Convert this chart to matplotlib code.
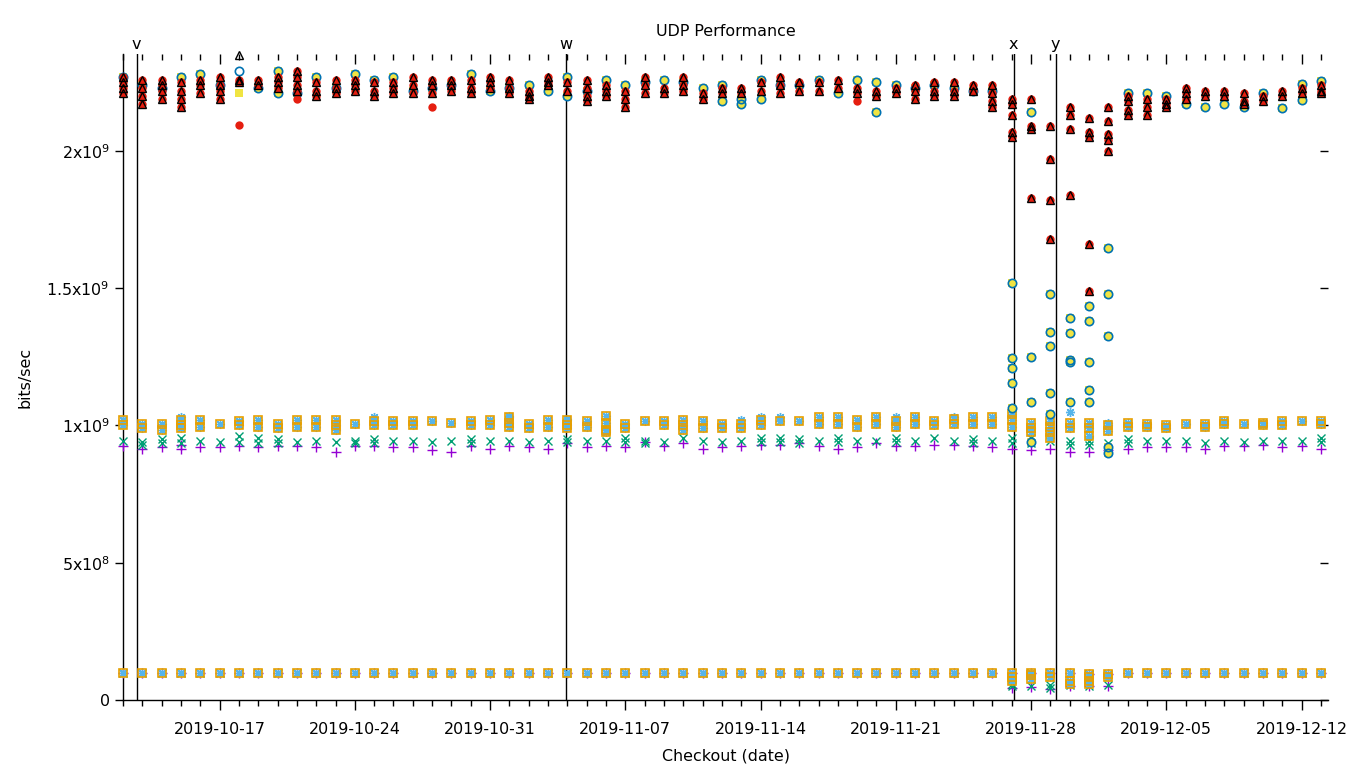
import numpy as np
import matplotlib
matplotlib.use("Agg")
import matplotlib.pyplot as plt
import matplotlib.dates as mdates
from datetime import datetime, timedelta

# ---------------- data (values in units of 1e9 bits/sec) ----------------
start_date = "2019-10-12"
n_days = 63

# red filled circles and black open triangles (same runs)
rb_shared = [
    [2.27, 2.25, 2.23, 2.21], [2.26, 2.23, 2.20, 2.17], [2.26, 2.24, 2.22, 2.19],
    [2.25, 2.22, 2.19, 2.16], [2.26, 2.24, 2.21], [2.27, 2.24, 2.22, 2.19],
    [2.26, 2.25], [2.26, 2.24], [2.27, 2.25, 2.23], [2.29, 2.27, 2.24, 2.22],
    [2.25, 2.22, 2.20], [2.26, 2.23, 2.21], [2.26, 2.24, 2.22], [2.25, 2.22, 2.20],
    [2.25, 2.23, 2.21], [2.27, 2.24, 2.21], [2.26, 2.24, 2.21], [2.26, 2.24, 2.22],
    [2.26, 2.23, 2.21], [2.27, 2.25, 2.23], [2.26, 2.23, 2.21], [2.22, 2.20, 2.19],
    [2.27, 2.25, 2.24], [2.25, 2.22], [2.26, 2.23, 2.20, 2.18], [2.24, 2.22, 2.20],
    [2.22, 2.19, 2.16], [2.27, 2.24, 2.21], [2.23, 2.21], [2.27, 2.24, 2.22],
    [2.21, 2.19], [2.23, 2.21], [2.23, 2.21], [2.25, 2.22], [2.27, 2.24, 2.21],
    [2.25, 2.22], [2.25, 2.22], [2.26, 2.23], [2.23, 2.21], [2.22, 2.20],
    [2.23, 2.21], [2.24, 2.22, 2.19], [2.25, 2.22, 2.20], [2.25, 2.22, 2.20],
    [2.24, 2.22], [2.24, 2.21, 2.18, 2.16],
    [2.19, 2.17, 2.13, 2.07, 2.05], [2.19, 2.09, 2.08, 1.83], [2.09, 1.97, 1.82, 1.68],
    [2.16, 2.13, 2.08, 1.84], [2.12, 2.07, 2.05, 1.66, 1.49], [2.16, 2.11, 2.06, 2.04, 2.00],
    [2.20, 2.18, 2.15, 2.13], [2.19, 2.16, 2.13], [2.19, 2.17, 2.16], [2.23, 2.21, 2.19],
    [2.22, 2.20], [2.22, 2.20], [2.21, 2.18, 2.17], [2.20, 2.18], [2.22, 2.20],
    [2.23, 2.21], [2.24, 2.22, 2.21],
]
red_only = {6: [2.094], 9: [2.19], 16: [2.16], 38: [2.18]}
black_only = {6: [2.35]}

# yellow filled squares and blue open circles (same runs)
yb_shared = [
    [2.27], [2.24], [2.23], [2.27], [2.28], [2.24], [], [2.23], [2.29, 2.21], [2.21],
    [2.27], [2.23], [2.28], [2.26], [2.27], [2.22], [2.23], [2.24], [2.28], [2.22],
    [2.23], [2.24], [2.22], [2.27, 2.20], [2.22], [2.26], [2.24], [2.25], [2.26], [2.25],
    [2.23], [2.24, 2.18], [2.19, 2.17], [2.26, 2.19], [2.24], [2.24], [2.26], [2.21],
    [2.26], [2.25, 2.14], [2.24], [2.23], [2.24], [2.23], [2.22], [2.22],
    [1.52, 1.245, 1.21, 1.155, 1.065], [2.14, 1.25, 1.085, 0.94],
    [1.48, 1.34, 1.29, 1.12, 1.04], [1.39, 1.335, 1.24, 1.23, 1.085],
    [1.435, 1.38, 1.23, 1.13, 1.085], [1.645, 1.48, 1.325, 0.92, 0.90],
    [2.21], [2.21], [2.20], [2.17], [2.16], [2.17], [2.16], [2.21], [2.155],
    [2.245, 2.185], [2.255],
]
blue_only = {6: [2.29]}
yellow_only = {6: [2.21]}

# orange open squares / sky-blue stars near 1e9
orange_mid = [
    [1.02, 1.00], [1.005, 0.99], [1.005, 0.985], [1.02, 1.00, 0.99], [1.02, 0.995],
    [1.005], [1.015, 1.00], [1.02, 0.995], [1.005, 0.99], [1.02, 0.995],
    [1.02, 0.995], [1.02, 1.00, 0.985], [1.005], [1.015, 1.00], [1.015, 1.00],
    [1.015, 1.00], [1.015], [1.01], [1.015, 1.00], [1.02, 1.00],
    [1.03, 1.01, 0.995], [1.005, 0.99], [1.02, 0.995], [1.02, 1.00, 0.99], [1.015, 0.995],
    [1.035, 1.01, 0.985, 0.975], [1.005, 0.99], [1.015], [1.015, 1.00], [1.02, 1.00, 0.985],
    [1.015, 0.99], [1.005, 0.99], [1.005, 0.99], [1.02, 1.00], [1.015],
    [1.015], [1.03, 1.005], [1.03, 1.005], [1.02, 0.995], [1.03, 1.005],
    [1.015, 0.995], [1.03, 1.005], [1.015, 1.00], [1.025, 1.005], [1.03, 1.005],
    [1.03, 1.005], [1.04, 1.02, 0.995], [1.01, 0.99, 0.975], [1.015, 0.995, 0.975, 0.955],
    [1.01, 0.99], [1.01, 0.99, 0.96], [1.00, 0.98], [1.01, 0.995],
    [1.005, 0.995], [1.00, 0.99], [1.005], [1.005, 0.995], [1.015, 1.005],
    [1.005], [1.01, 1.00], [1.015, 1.00], [1.015], [1.015, 1.005],
]
sky_only = {3: [1.03], 13: [1.03], 20: [1.035], 23: [1.025], 32: [1.02], 33: [1.03],
            34: [1.03], 40: [1.03], 43: [1.03], 46: [1.05], 49: [1.05], 51: [1.01]}

green_mid = [
    [0.945], [0.94, 0.93], [0.95, 0.935], [0.955, 0.935], [0.945], [0.94], [0.96, 0.94],
    [0.955, 0.935], [0.95, 0.935], [0.94], [0.945], [0.94], [0.945, 0.935], [0.95, 0.935],
    [0.945], [0.945], [0.94], [0.945], [0.95, 0.935], [0.945], [0.945], [0.94],
    [0.945], [0.95, 0.94], [0.945], [0.945], [0.955, 0.94], [0.945, 0.935], [0.94],
    [0.955], [0.945], [0.94], [0.945], [0.955, 0.94], [0.955, 0.94], [0.95, 0.935],
    [0.945], [0.955, 0.94], [0.945], [0.945], [0.955, 0.94], [0.945], [0.955], [0.945],
    [0.95, 0.935], [0.945], [0.955, 0.935], [0.955, 0.935], [0.945], [0.945, 0.93],
    [0.945, 0.93], [0.935], [0.95, 0.935], [0.945], [0.945], [0.945], [0.935],
    [0.945], [0.94], [0.945], [0.945], [0.945], [0.955, 0.94],
]

purple_mid = [
    [0.925], [0.915], [0.92], [0.93, 0.915], [0.92], [0.92], [0.925], [0.92], [0.925],
    [0.925], [0.92], [0.905], [0.925], [0.925], [0.92], [0.92], [0.91], [0.905],
    [0.925], [0.915], [0.925], [0.92], [0.915], [0.935], [0.92], [0.925], [0.92],
    [0.94], [0.925], [0.935], [0.915], [0.92], [0.925], [0.93], [0.93], [0.935],
    [0.925], [0.915], [0.92], [0.935], [0.925], [0.925], [0.93], [0.93], [0.925],
    [0.92], [0.915], [0.91], [0.915], [0.905], [0.905], [0.91], [0.915], [0.92],
    [0.92], [0.92], [0.915], [0.925], [0.925], [0.93], [0.92], [0.925], [0.915],
]

# low group near 1e8
low_orange = [
    [0.098], [0.097], [0.098], [0.098], [0.099], [0.098], [0.099], [0.099], [0.098],
    [0.099], [0.098], [0.097], [0.098], [0.098], [0.099], [0.098], [0.098], [0.099],
    [0.099], [0.098], [0.099], [0.098], [0.098], [0.098], [0.098], [0.097], [0.097],
    [0.098], [0.099], [0.098], [0.098], [0.097], [0.098], [0.098], [0.098], [0.098],
    [0.098], [0.097], [0.098], [0.097], [0.098], [0.098], [0.098], [0.097], [0.098],
    [0.098], [0.10, 0.085, 0.07], [0.10, 0.09, 0.075], [0.10, 0.085],
    [0.10, 0.07, 0.06], [0.095, 0.085, 0.07, 0.06], [0.095, 0.085], [0.098],
    [0.098], [0.097], [0.098], [0.098], [0.098], [0.098], [0.098], [0.098],
    [0.098], [0.098],
]
low_green = {46: [0.06, 0.05], 47: [0.05], 48: [0.055, 0.045], 49: [0.055],
             50: [0.095, 0.05], 51: [0.055]}
low_purple = {46: [0.045], 47: [0.048], 48: [0.04], 49: [0.05], 50: [0.05], 51: [0.052]}

# event markers
event_labels = ["v", "w", "x", "y"]
event_times = ["2019-10-12 17:00", "2019-11-03 22:20", "2019-11-27 02:30", "2019-11-29 06:30"]

ytick_vals = [0, 0.5, 1.0, 1.5, 2.0]
ytick_text = ["0", r"$5\mathregular{x}10^{8}$", r"$1\mathregular{x}10^{9}$",
              r"$1.5\mathregular{x}10^{9}$", r"$2\mathregular{x}10^{9}$"]

# ---------------- build series ----------------
d0 = datetime.strptime(start_date, "%Y-%m-%d")
dates = [d0 + timedelta(days=i) for i in range(n_days)]


def expand(per_day, extra=None):
    xs, ys = [], []
    for i in range(n_days):
        vals = list(per_day[i]) if per_day is not None else []
        if extra and i in extra:
            vals += extra[i]
        for v in vals:
            xs.append(dates[i])
            ys.append(v * 1e9)
    return xs, ys


def merge_dict(base_list, d):
    return [list(base_list[i]) + d.get(i, []) for i in range(n_days)]


purple_all = merge_dict(purple_mid, {i: [low_orange[i][0]] for i in range(n_days)})
purple_all = merge_dict(purple_all, low_purple)
green_all = merge_dict(green_mid, {i: [low_orange[i][0]] for i in range(n_days)})
green_all = merge_dict(green_all, low_green)
sky_all = merge_dict(orange_mid, {i: list(low_orange[i]) for i in range(n_days)})
sky_all = merge_dict(sky_all, sky_only)
orange_all = merge_dict(orange_mid, {i: list(low_orange[i]) for i in range(n_days)})

series = [
    (purple_all, None, dict(marker="+", color="#9400d3", ms=7, mew=1.0)),
    (green_all, None, dict(marker="x", color="#009e73", ms=5.5, mew=1.0)),
    (sky_all, None, dict(marker=(8, 2, 0), color="#56b4e9", ms=6.5, mew=1.0)),
    (orange_all, None, dict(marker="s", mfc="none", mec="#e69f00", ms=5.5, mew=1.2)),
    (yb_shared, yellow_only, dict(marker="s", color="#f0e442", ms=5.5, mew=0)),
    (yb_shared, blue_only, dict(marker="o", mfc="none", mec="#0072b2", ms=6, mew=1.2)),
    (rb_shared, red_only, dict(marker="o", color="#e51e10", ms=6, mew=0)),
    (rb_shared, black_only, dict(marker="^", mfc="none", mec="black", ms=5.5, mew=1.0)),
]

# ---------------- plot ----------------
plt.rcParams['font.family'] = ['DejaVu Sans']
fig = plt.figure(figsize=(13.6, 7.68), dpi=100)
ax = fig.add_axes([123 / 1360, 68 / 768, (1328 - 123) / 1360, (700 - 54) / 768])

for z, (per_day, extra, style) in enumerate(series):
    xs, ys = expand(per_day, extra)
    ax.plot(xs, ys, linestyle="none", clip_on=False, zorder=3 + z, **style)

ax.set_xlim(d0, d0 + timedelta(days=62.37))
ax.set_ylim(0, 2.353e9)

for lab, t in zip(event_labels, event_times):
    tt = datetime.strptime(t, "%Y-%m-%d %H:%M")
    ax.axvline(tt, color="black", lw=1.0, zorder=2)
    ax.text(tt, 2.353e9 + 0.008e9, lab, ha="center", va="bottom", fontsize=11.5,
            transform=ax.transData, clip_on=False)

ax.set_yticks([v * 1e9 for v in ytick_vals])
ax.set_yticklabels(ytick_text)

ax.xaxis.set_minor_locator(mdates.DayLocator())
major_dates = [datetime(2019, 10, 17) + timedelta(days=7 * k) for k in range(9)]
ax.set_xticks(major_dates)
ax.set_xticklabels([d.strftime("%Y-%m-%d") for d in major_dates])

for s in ["top", "right"]:
    ax.spines[s].set_visible(False)
ax.spines["left"].set_linewidth(1.0)
ax.spines["bottom"].set_linewidth(1.0)

ax.tick_params(axis="x", which="major", direction="out", length=7, width=1,
               top=True, labelsize=11.4, pad=9)
ax.tick_params(axis="x", which="minor", direction="out", length=4, width=1, top=True)
ax.tick_params(axis="y", which="major", direction="out", length=6, width=1,
               right=True, labelsize=11.4)

# top/right mirror ticks pointing inward
for tl in ax.xaxis.get_major_ticks() + ax.xaxis.get_minor_ticks():
    tl.tick2line.set_marker(3)  # TICKDOWN
for tl in ax.yaxis.get_major_ticks():
    tl.tick2line.set_marker(0)  # TICKLEFT

ax.set_title("UDP Performance", fontsize=11.4, pad=13)
ax.set_xlabel("Checkout (date)", fontsize=11.4, labelpad=8)
ax.set_ylabel("bits/sec", fontsize=11.4, labelpad=10)

fig.savefig("out.png", dpi=100)
